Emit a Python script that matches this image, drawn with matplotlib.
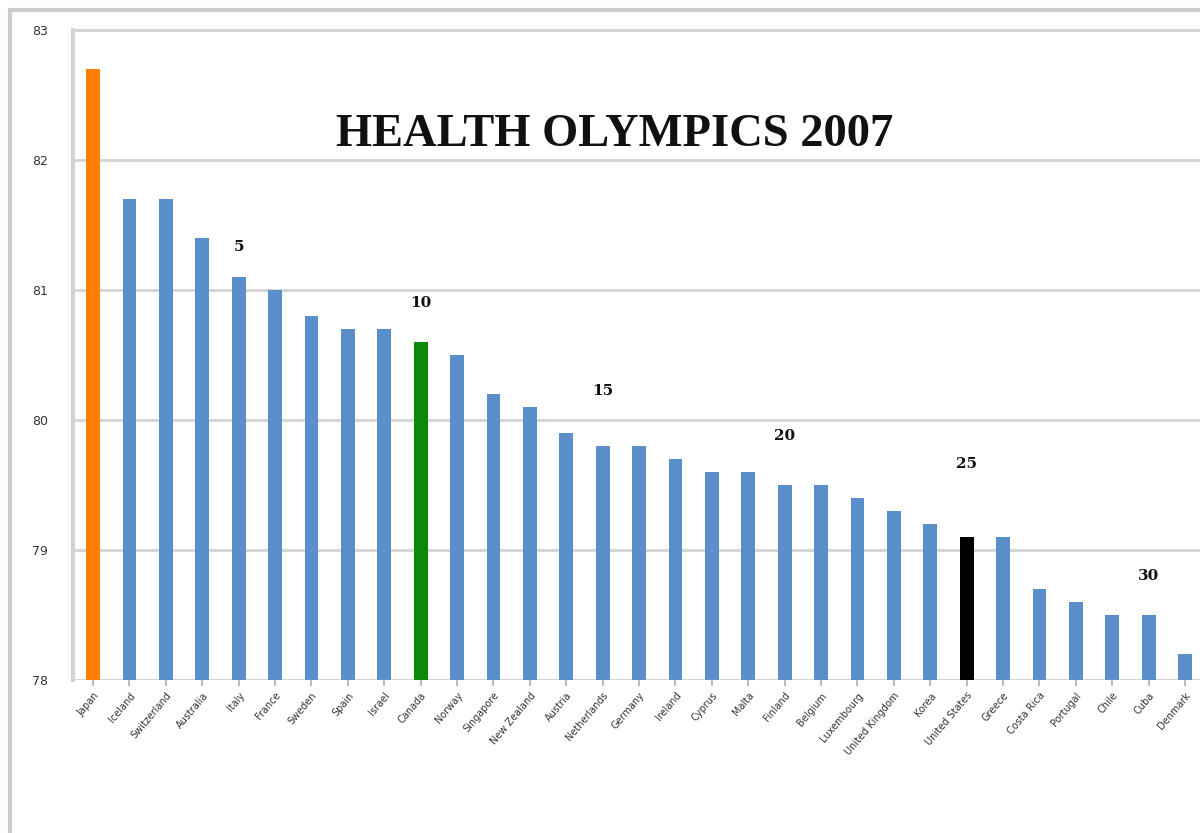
import matplotlib
matplotlib.use("Agg")
import matplotlib.pyplot as plt
from matplotlib.patches import Rectangle

# life expectancy at birth, 2007
countries = ["Japan", "Iceland", "Switzerland", "Australia", "Italy", "France",
             "Sweden", "Spain", "Israel", "Canada", "Norway", "Singapore",
             "New Zealand", "Austria", "Netherlands", "Germany", "Ireland",
             "Cyprus", "Malta", "Finland", "Belgium", "Luxembourg",
             "United Kingdom", "Korea", "United States", "Greece", "Costa Rica",
             "Portugal", "Chile", "Cuba", "Denmark"]
life_exp = [82.7, 81.7, 81.7, 81.4, 81.1, 81.0, 80.8, 80.7, 80.7, 80.6,
            80.5, 80.2, 80.1, 79.9, 79.8, 79.8, 79.7, 79.6, 79.6, 79.5,
            79.5, 79.4, 79.3, 79.2, 79.1, 79.1, 78.7, 78.6, 78.5, 78.5, 78.2]
rank_marks = [5, 10, 15, 20, 25, 30]
# where each rank number sits (bar index, height)
rank_pos = [(4, 81.33), (9, 80.9), (14, 80.22), (19, 79.88), (24, 79.66), (29, 78.8)]

colors = ["#5B8FC9"] * len(countries)
colors[0] = "#FF7F00"
colors[9] = "#0A8A0A"
colors[24] = "#000000"

fig = plt.figure(figsize=(12, 8.33), dpi=100)
fig.patches.append(Rectangle((10 / 1200, -0.1), 1.2, 1.1 - 10 / 833,
                             transform=fig.transFigure, fill=False,
                             edgecolor="#cccccc", lw=3))
ax = fig.add_axes([73 / 1200, 1 - 680 / 833, 1 - 73 / 1200, 650 / 833])

x = range(len(countries))
ax.bar(x, [v - 78 for v in life_exp], bottom=78, width=0.38, color=colors,
       zorder=3)

ax.set_ylim(78, 83)
ax.set_xlim(-0.55, 30.41)
ax.set_yticks([78, 79, 80, 81, 82, 83])
ax.yaxis.grid(True, color="#d4d4d4", lw=2, zorder=0)
ax.tick_params(axis="y", length=0, pad=18, labelsize=9, labelcolor="#333333")
ax.tick_params(axis="x", length=4, color="#bbbbbb", width=1.5)
ax.set_xticks(list(x))
ax.set_xticklabels(countries, rotation=50, ha="right", rotation_mode="anchor",
                   fontsize=7, color="#333333")
for s in ["right", "bottom"]:
    ax.spines[s].set_visible(False)
ax.spines["left"].set_color("#d4d4d4")
ax.spines["left"].set_linewidth(3)
ax.spines["top"].set_color("#d4d4d4")
ax.spines["top"].set_linewidth(2)
ax.axhline(78, color="#d4d4d4", lw=2, zorder=1)

for r, (i, h) in zip(rank_marks, rank_pos):
    ax.text(i, h, str(r), ha="center", va="center", fontsize=11,
            fontfamily="DejaVu Serif", fontweight="bold", color="#111111")

fig.text(615 / 1200, 1 - 135 / 833, "HEALTH OLYMPICS 2007", ha="center",
         va="center", fontsize=33.5, fontfamily="Liberation Serif",
         fontweight="bold", color="#111111")

fig.savefig("out.png", dpi=100)
